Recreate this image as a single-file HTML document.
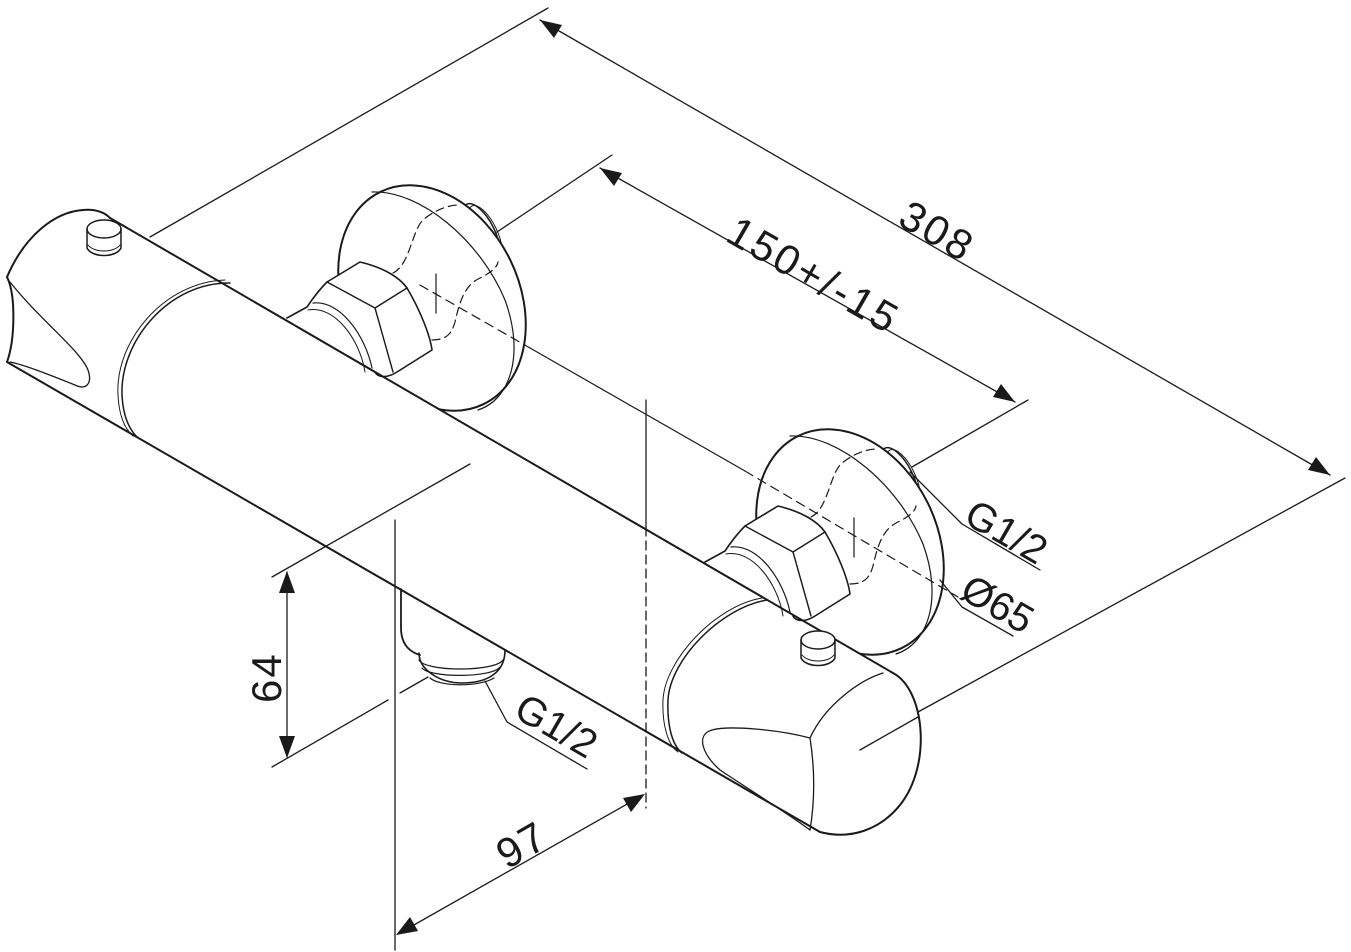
<!DOCTYPE html>
<html><head><meta charset="utf-8"><style>
html,body{margin:0;padding:0;background:#fff;}
svg{display:block}
text{font-family:"Liberation Sans",sans-serif;fill:#1a1a1a}
</style></head><body>
<svg width="1351" height="952" viewBox="0 0 1351 952" xmlns="http://www.w3.org/2000/svg">
<g fill="none" stroke="#1a1a1a" stroke-linecap="round" stroke-linejoin="round">

<!-- dimension 308 -->
<g stroke-width="1.3">
<line x1="150" y1="237" x2="548" y2="8"/>
<line x1="918" y1="712" x2="1345" y2="478"/>
<path d="M540,20 L1330,475"/>
</g>
<path d="M540,20 l22,5 l-8,13z M1330,475 l-22,-5 l8,-13z" fill="#1a1a1a" stroke="none"/>

<!-- dimension 150 -->
<g stroke-width="1.3">
<line x1="497" y1="232" x2="612" y2="155"/>
<line x1="912" y1="467" x2="1028" y2="400"/>
<line x1="600" y1="168" x2="1015" y2="402"/>
</g>
<path d="M600,168 l22,5 l-8,13z M1015,402 l-22,-5 l8,-13z" fill="#1a1a1a" stroke="none"/>

<!-- rosettes -->
<g id="ros">
<ellipse cx="481" cy="234" rx="14" ry="33" transform="rotate(-26 481 234)" stroke-width="1.5" fill="#fff"/>
<ellipse cx="485" cy="233" rx="12" ry="30" transform="rotate(-26 485 233)" stroke-width="1"/>
<ellipse cx="432" cy="298" rx="87" ry="118" transform="rotate(-26 432 298)" stroke-width="2" fill="#fff"/>
<path d="M372,192 C420,190 480,240 505,300 C525,355 510,400 478,410" stroke-width="1.2"/>
<path d="M393,273 C410,265 412,230 423,220 C432,212 445,206 457,205" stroke-width="1.2" stroke-dasharray="8,5"/>
<path d="M432,340 C448,340 452,332 455,322 C460,300 465,285 480,278 C490,273 497,268 498,262" stroke-width="1.2" stroke-dasharray="8,5"/>
<line x1="436" y1="274" x2="436" y2="313" stroke-width="1.2"/>
</g>
<use href="#ros" transform="translate(418,244)"/>

<!-- centre line -->
<line x1="420" y1="285" x2="530" y2="348" stroke-width="1.2" stroke-dasharray="9,6"/>
<line x1="530" y1="348" x2="745" y2="471" stroke-width="1.2"/>
<line x1="745" y1="471" x2="958" y2="597" stroke-width="1.2" stroke-dasharray="9,6"/>

<!-- body fill -->
<path d="M110,218 L893,673 C925,690 932,765 900,805 C880,830 850,840 820,832 L7,362 L7,277 C25,235 55,212 83,210z" fill="#fff" stroke="none"/>

<!-- nuts -->
<g id="nut">
<path d="M287,318 L307,307 C315,295 322,287 327,282 L360,262 C385,268 400,278 407,288 C420,310 430,335 432,350 L397,372 C388,378 378,378 375,372" stroke-width="1.6" fill="#fff"/>
<path d="M327,282 L375,308 L407,288 M375,308 L393,372 M375,308 L375,308" stroke-width="1.4"/>
<path d="M313,303 C340,300 365,335 372,368" stroke-width="1.2"/>
<path d="M308,310 C335,305 360,340 365,372" stroke-width="1"/>
</g>
<use href="#nut" transform="translate(418,244)"/>

<!-- body lines -->
<line x1="110" y1="218" x2="893" y2="673" stroke-width="2"/>
<line x1="7" y1="362" x2="820" y2="832" stroke-width="2"/>

<!-- left end cap -->
<path d="M7,277 C25,235 55,212 83,210 C95,209 104,212 110,218" stroke-width="2"/>
<path d="M7,277 C16,295 15,340 7,362" stroke-width="2"/>
<path d="M10,282 C40,320 80,350 88,370 C93,385 85,390 75,385 C50,375 25,365 10,362" stroke-width="1.3"/>
<!-- left button -->
<ellipse cx="104" cy="229" rx="17" ry="9" stroke-width="1.5" fill="#fff"/>
<path d="M87,229 L87,248 C92,258 116,258 121,248 L121,229" stroke-width="1.5"/>
<path d="M88,245 C94,253 114,253 120,245" stroke-width="1"/>
<!-- left seam -->
<path d="M230,283 C170,282 120,340 122,395 C123,415 128,428 137,437" stroke-width="1.5"/>
<path d="M225,280 C165,282 115,340 118,395 C119,415 124,428 133,436" stroke-width="1"/>

<!-- bottom outlet -->
<path d="M401,589 L401,628 C401,645 410,652 420,655" stroke-width="1.8"/>
<path d="M419,653 C419,670 440,683 462,683 C484,683 505,675 505,650" stroke-width="1.6"/>
<path d="M419,660 C425,672 495,672 503,660 M422,668 C430,678 492,678 500,667" stroke-width="1.2"/>
<path d="M430,678 C440,687 480,687 494,678" stroke-width="1.2"/>

<!-- right end knob -->
<path d="M767,600 C720,608 670,660 668,700 C667,725 672,745 682,753" stroke-width="1.5"/>
<path d="M762,598 C715,606 665,660 663,700 C662,725 668,745 678,752" stroke-width="1"/>
<path d="M893,673 C925,690 932,765 900,805 C880,830 850,840 820,832" stroke-width="2"/>
<path d="M883,673 C860,680 825,705 810,738" stroke-width="1.3"/>
<path d="M810,738 C815,770 815,800 810,830" stroke-width="1.3"/>
<path d="M810,738 C780,730 730,725 712,730 C695,735 703,755 720,770 C750,790 790,815 810,830" stroke-width="1.3"/>
<line x1="860" y1="750" x2="918" y2="717" stroke-width="1.3"/>
<!-- right button -->
<ellipse cx="818" cy="640" rx="17" ry="9" stroke-width="1.5" fill="#fff"/>
<path d="M801,640 L801,658 C806,668 830,668 835,658 L835,640" stroke-width="1.5"/>
<path d="M802,655 C808,663 828,663 834,655" stroke-width="1"/>

<!-- 64 dimension -->
<g stroke-width="1.3">
<line x1="272" y1="577" x2="470" y2="464"/>
<line x1="272" y1="767" x2="388" y2="700"/>
<line x1="400" y1="693" x2="428" y2="677"/>
<line x1="287" y1="572" x2="287" y2="757"/>
</g>
<path d="M287,571 l-8,22 l16,0z M287,758 l-8,-22 l16,0z" fill="#1a1a1a" stroke="none"/>

<!-- 97 dimension -->
<g stroke-width="1.3">
<line x1="395" y1="520" x2="395" y2="950"/>
<line x1="646" y1="400" x2="646" y2="527"/>
<line x1="646" y1="527" x2="646" y2="808" stroke-dasharray="9,5"/>
<line x1="398" y1="934" x2="643" y2="795"/>
</g>
<path d="M396,935 l14,-18 l8,14z M645,794 l-14,18 l-8,-14z" fill="#1a1a1a" stroke="none"/>

<!-- leaders -->
<g stroke-width="1.3">
<path d="M485,681 L507,722 L587,769"/>
<path d="M910,472 L962,524 L1040,570"/>
<path d="M940,580 L962,607 L1013,636"/>
</g>
</g>

<g font-size="42">
<text transform="translate(896,224) rotate(30)" letter-spacing="3">308</text>
<text transform="translate(724,240) rotate(30)" letter-spacing="3">150+/-15</text>
<text transform="translate(962,522) rotate(30)" font-size="40">G1/2</text>
<text transform="translate(958,597) rotate(30)" font-size="40">Ø65</text>
<text transform="translate(512,716) rotate(30)" font-size="40">G1/2</text>
<text transform="translate(281,703) rotate(-90)" letter-spacing="2">64</text>
<text transform="translate(507,870) rotate(-30)" letter-spacing="2">97</text>
</g>
</svg>
</body></html>
